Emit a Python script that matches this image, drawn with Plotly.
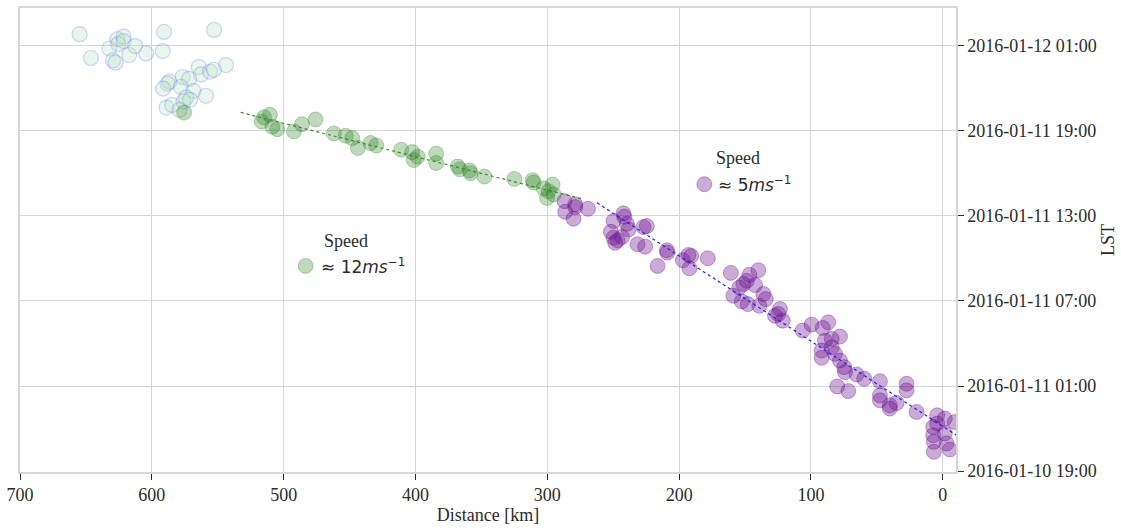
import pandas as pd
import plotly.graph_objects as go

T0 = pd.Timestamp("2016-01-10 19:00")

# Earlier echoes (open markers), distance [km] and hours after T0
early_dist = [654.8, 646.2, 632.3, 629.5, 627.5, 626.0, 625.5, 621.4, 621.4, 617.2,
              612.7, 604.3, 590.7, 591.7, 552.8, 564.4, 562.7, 555.8, 552.8, 543.7,
              586.6, 588.1, 591.4, 576.7, 571.7, 578.0, 568.4, 558.9, 588.9, 584.6,
              579.0, 576.0, 574.0, 571.0]
early_hours = [30.82, 29.14, 29.81, 28.97, 28.81, 30.47, 30.12, 30.65, 30.33, 29.35,
               29.98, 29.46, 30.98, 29.63, 31.12, 28.50, 27.98, 28.17, 28.31, 28.64,
               27.47, 27.33, 26.98, 27.80, 27.66, 27.10, 26.82, 26.47, 25.64, 25.83,
               25.48, 26.07, 26.35, 26.19]

# Fast segment (~12 m/s)
fast_dist = [575.5, 514.9, 510.4, 516.7, 508.6, 504.8, 492.2, 486.1, 475.8, 461.9,
             453.0, 448.0, 443.7, 434.1, 429.8, 410.8, 402.5, 401.3, 398.3, 384.3,
             384.3, 367.9, 366.4, 358.9, 358.3, 347.7, 325.0, 311.1, 310.4, 302.8,
             296.0, 300.2, 295.2, 299.0]
fast_hours = [25.29, 24.96, 25.13, 24.66, 24.29, 24.12, 23.96, 24.47, 24.80, 23.82,
              23.65, 23.49, 22.79, 23.14, 22.97, 22.67, 22.50, 21.94, 22.18, 22.39,
              21.73, 21.48, 21.29, 21.20, 21.01, 20.78, 20.61, 20.52, 20.35, 19.93,
              20.21, 19.27, 19.51, 19.74]

# Slow segment (~5 m/s)
slow_dist = [286.9, 286.4, 278.8, 278.8, 280.1, 269.2, 249.8, 242.2, 241.7, 239.6,
             238.4, 251.8, 249.8, 246.7, 243.4, 248.5, 231.6, 225.8, 227.0, 224.5,
             209.3, 209.0, 216.4, 197.2, 192.9, 190.9, 192.2, 178.3, 160.8, 146.7,
             139.9, 148.7, 151.3, 154.3, 142.4, 158.9, 152.5, 148.0, 139.2, 136.1,
             134.3, 127.3, 123.5, 124.8, 121.4, 106.3, 99.5, 91.1, 86.9, 89.4,
             84.3, 78.0, 91.9, 91.9, 84.3, 81.8, 78.0, 74.8, 74.2, 65.4,
             59.6, 47.7, 80.1, 71.7, 47.7, 47.7, 40.2, 40.2, 35.1, 27.5,
             27.5, 19.9, 4.3, -1.5, 7.3, 7.3, 6.8, 6.8, -1.5, -2.8,
             -5.3, -9.1, 4.3]
slow_hours = [19.04, 18.29, 18.81, 18.62, 17.80, 18.50, 17.64, 18.18, 17.94, 17.45,
              17.05, 16.88, 16.46, 16.28, 16.51, 16.11, 16.00, 15.83, 17.21, 17.28,
              15.58, 15.41, 14.47, 14.87, 15.25, 15.18, 14.31, 15.01, 13.98, 13.84,
              14.17, 13.42, 13.19, 12.95, 13.12, 12.37, 11.97, 11.78, 11.66, 12.49,
              12.13, 10.96, 11.43, 11.08, 10.61, 9.91, 10.33, 10.10, 10.49, 9.20,
              9.32, 9.49, 8.50, 7.99, 8.73, 8.27, 7.80, 7.33, 6.98, 6.82,
              6.51, 6.34, 5.97, 5.64, 5.34, 4.99, 4.64, 4.41, 4.80, 6.16,
              5.69, 4.17, 3.93, 3.70, 3.11, 2.53, 2.06, 1.36, 2.65, 1.95,
              1.52, 3.46, 3.35]

# Fitted propagation lines
fast_fit_dist = [532.6, 272.7]
fast_fit_hours = [25.30, 19.18]
slow_fit_dist = [262.3, -10.0]
slow_fit_hours = [18.92, 2.55]

x_ticks = [700, 600, 500, 400, 300, 200, 100, 0]


def to_time(hours):
    return [T0 + pd.Timedelta(hours=h) for h in hours]


SERIF = "Liberation Serif"
SANS = "DejaVu Sans"
GRID = "#d6d6d6"
INK = "#2b2b2b"
FS = 18

GREEN = "rgba(40,130,30,0.30)"
PURPLE = "rgba(105,15,140,0.35)"

fig = go.Figure()

fig.add_trace(go.Scatter(
    x=early_dist, y=to_time(early_hours), mode="markers", showlegend=False,
    marker=dict(size=15, color="rgba(185,225,190,0.30)",
                line=dict(width=1.2, color="rgba(90,110,255,0.28)")),
))
fig.add_trace(go.Scatter(
    x=fast_dist, y=to_time(fast_hours), mode="markers", showlegend=False,
    marker=dict(size=15, color=GREEN, line=dict(width=1, color=GREEN)),
))
fig.add_trace(go.Scatter(
    x=slow_dist, y=to_time(slow_hours), mode="markers", showlegend=False,
    marker=dict(size=15, color=PURPLE, line=dict(width=1, color=PURPLE)),
))
fig.add_trace(go.Scatter(
    x=fast_fit_dist, y=to_time(fast_fit_hours), mode="lines", showlegend=False,
    line=dict(color="rgb(60,140,40)", width=1.2, dash="dot"),
))
fig.add_trace(go.Scatter(
    x=slow_fit_dist, y=to_time(slow_fit_hours), mode="lines", showlegend=False,
    line=dict(color="rgb(30,30,255)", width=1.2, dash="dot"),
))

# Speed labels with their symbols
labels = [
    dict(px=0.3052, py=0.4442, tx=0.3191, sx=0.3479, sy=0.4979, speed="12",
         color=GREEN),
    dict(px=0.7311, py=0.6202, tx=0.7439, sx=0.7673, sy=0.6760, speed="5",
         color=PURPLE),
]
annotations = []
shapes = []
for lab in labels:
    annotations.append(dict(
        x=lab["sx"], y=lab["sy"], xref="paper", yref="paper", text="Speed",
        showarrow=False, xanchor="center", yanchor="middle",
        font=dict(family=SERIF, size=FS, color=INK)))
    annotations.append(dict(
        x=lab["tx"], y=lab["py"], xref="paper", yref="paper",
        text="≈ " + lab["speed"] + "<i>ms</i><sup>−1</sup>",
        showarrow=False, xanchor="left", yanchor="middle",
        font=dict(family=SANS, size=17, color=INK)))
    shapes.append(dict(
        type="circle", xref="paper", yref="paper",
        xsizemode="pixel", ysizemode="pixel",
        xanchor=lab["px"], yanchor=lab["py"],
        x0=-7.5, x1=7.5, y0=-7.5, y1=7.5,
        fillcolor=lab["color"], line=dict(color=lab["color"], width=1)))

fig.update_layout(
    width=1121, height=528,
    margin=dict(l=19, r=165, t=6, b=56),
    paper_bgcolor="white", plot_bgcolor="white",
    font=dict(family=SERIF, size=FS, color=INK),
    annotations=annotations, shapes=shapes,
    showlegend=False,
)
fig.update_xaxes(
    range=[700, -10], tickvals=x_ticks, ticktext=[str(v) for v in x_ticks],
    ticks="outside", ticklen=6, tickcolor=INK, tickwidth=1,
    showgrid=True, gridcolor=GRID, gridwidth=1, zeroline=False,
    showline=True, linecolor=GRID, linewidth=1.5, mirror=True,
    tickfont=dict(family=SERIF, size=FS, color=INK),
    title=dict(text="Distance [km]", standoff=1,
               font=dict(family=SERIF, size=FS, color=INK)),
)
fig.update_yaxes(
    type="date", side="right",
    range=["2016-01-10 18:56", "2016-01-12 03:40"],
    tick0="2016-01-10 19:00", dtick=6 * 3600 * 1000,
    tickformat="%Y-%m-%d %H:%M",
    ticks="outside", ticklen=6, tickcolor=INK, tickwidth=1,
    showgrid=True, gridcolor=GRID, gridwidth=1, zeroline=False,
    showline=True, linecolor=GRID, linewidth=1.5, mirror=True,
    tickfont=dict(family=SERIF, size=FS, color=INK),
    title=dict(text="LST", standoff=6,
               font=dict(family=SERIF, size=FS, color=INK)),
)

fig.write_html("out.html")
